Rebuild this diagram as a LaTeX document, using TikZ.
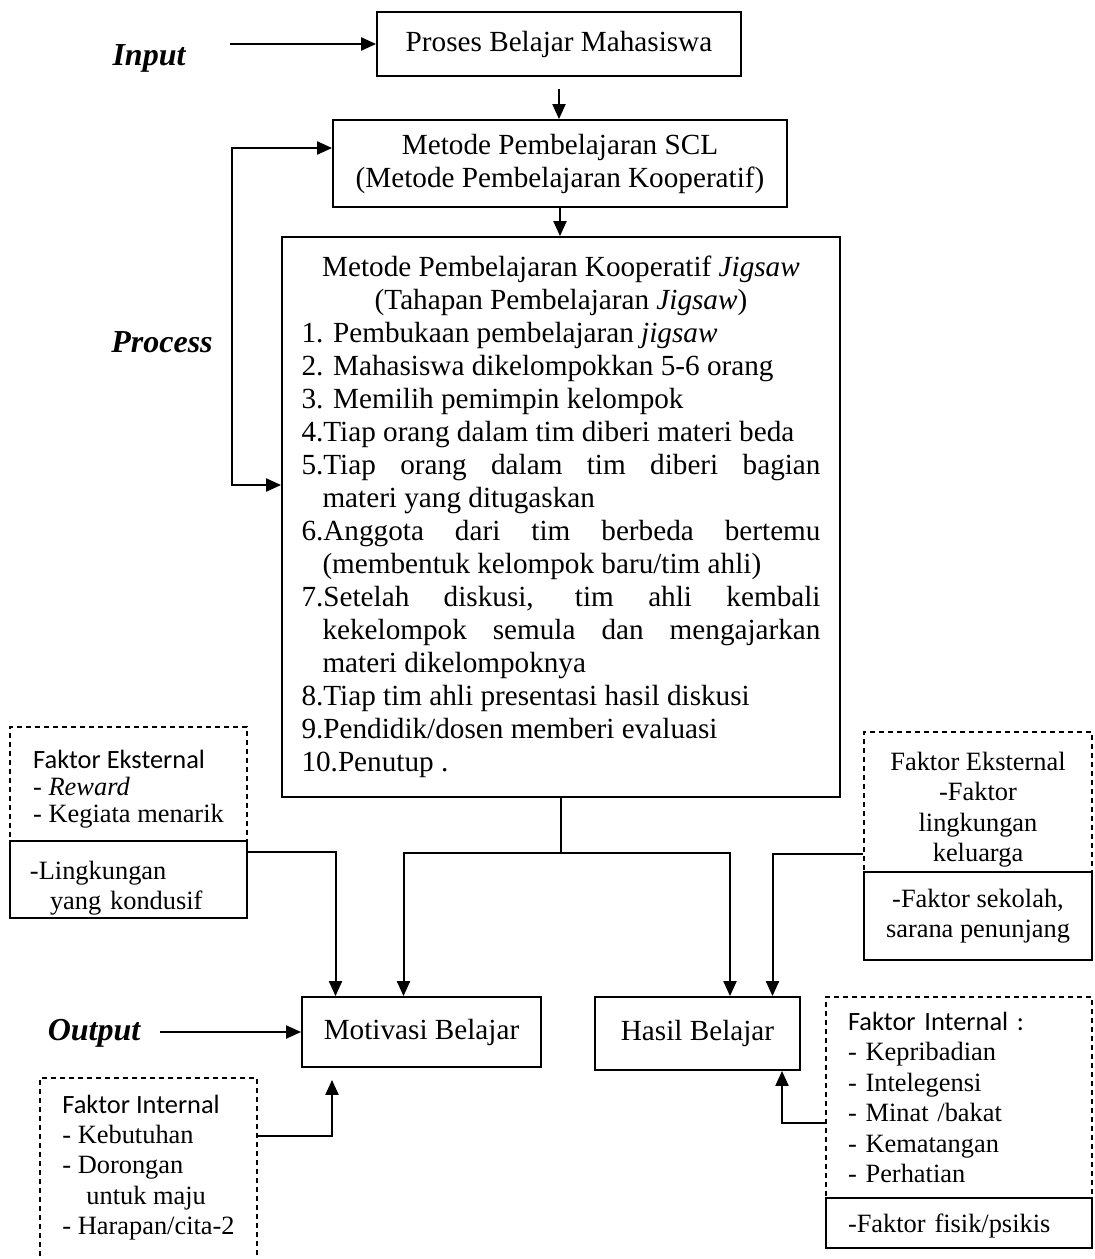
\documentclass[tikz,border=0pt]{standalone}
\usepackage{fontspec}
\setmainfont{Liberation Serif}
\newfontfamily\faktorfont{Carlito}
\usetikzlibrary{arrows.meta}

\begin{document}
\begin{tikzpicture}
    [x=0.5pt,y=-0.5pt,font=\fontsize{14.6}{16.5}\selectfont,
     kotak/.style={draw,line width=0.9pt,inner sep=0pt},
     putus/.style={draw,line width=0.7pt,dash pattern=on 2.5pt off 2pt,inner sep=0pt},
     isi/.style={font=\fontsize{13.2}{15.2}\selectfont,inner sep=0pt},
     tahap/.style={font=\fontsize{16}{19}\selectfont\bfseries\itshape},
     panah/.style={-{Triangle[length=7.5pt,width=6.5pt]},line width=1pt},
     panahdua/.style={{Triangle[length=7.5pt,width=6.5pt]}-{Triangle[length=7.5pt,width=6.5pt]},line width=1pt},
     garis/.style={line width=1pt}]
    \useasboundingbox (0,0) rectangle (1094,1259);

    \node[kotak,minimum width=182pt,minimum height=32pt] (proses) at (559,44) {Proses Belajar Mahasiswa};
    \node[kotak,minimum width=227pt,minimum height=43.5pt,align=center] (scl) at (560,163.5)
        {Metode Pembelajaran SCL\\(Metode Pembelajaran Kooperatif)};
    \node[kotak,minimum width=279pt,minimum height=280pt] (jigsaw) at (561,517) {\parbox{259.5pt}{%
        {\centering Metode Pembelajaran Kooperatif \textit{Jigsaw}\\
        (Tahapan Pembelajaran \textit{Jigsaw})\par}
        1. Pembukaan pembelajaran \textit{jigsaw}\par
        2. Mahasiswa dikelompokkan 5-6 orang\par
        3. Memilih pemimpin kelompok\par
        4.Tiap orang dalam tim diberi materi beda\par
        \hangindent=10.5pt\hangafter=1 5.Tiap orang dalam tim diberi bagian\linebreak
        materi yang ditugaskan\par
        \hangindent=10.5pt\hangafter=1 6.Anggota dari tim berbeda bertemu\linebreak
        (membentuk kelompok baru/tim ahli)\par
        \hangindent=10.5pt\hangafter=1 7.Setelah diskusi, tim ahli kembali\linebreak
        kekelompok semula dan mengajarkan\linebreak materi dikelompoknya\par
        8.Tiap tim ahli presentasi hasil diskusi\par
        9.Pendidik/dosen memberi evaluasi\par
        10.Penutup .}};
    \node[kotak,minimum width=119.5pt,minimum height=35pt] (motivasi) at (421.5,1032) {Motivasi Belajar};
    \node[kotak,minimum width=102.5pt,minimum height=36.5pt] (hasil) at (697.5,1033.5) {Hasil Belajar};

    \node[tahap] (input) at (149,58) {Input};
    \node[tahap] (process) at (162,342) {Process};
    \node[tahap] (output) at (94,1033) {Output};

    % faktor eksternal kiri
    \node[putus,isi,font=\fontsize{13.2}{13.5}\selectfont,minimum width=118.5pt,minimum height=57pt,align=left]
        (lext) at (128.5,784) {\rule{0pt}{14pt}{\faktorfont Faktor Eksternal}\\- \textit{Reward}\\- Kegiata menarik};
    \node[kotak,isi,minimum width=118.5pt,minimum height=38.5pt,text width=98.5pt,inner xsep=10pt,align=left]
        (lingk) at (128.5,879.5) {\rule{0pt}{18pt}-Lingkungan\\\hspace*{10pt}yang kondusif};

    % faktor eksternal kanan
    \node[putus,isi,minimum width=114pt,minimum height=70pt,align=center]
        (rext) at (978,802) {\rule{0pt}{17pt}Faktor Eksternal\\-Faktor\\lingkungan\\keluarga};
    \node[kotak,isi,minimum width=114pt,minimum height=44pt,align=center]
        (rsek) at (978,916) {-Faktor sekolah,\\sarana penunjang};

    % faktor internal
    \node[putus,minimum width=108.5pt,minimum height=106pt] (lint) at (148.5,1184) {};
    \node[isi,anchor=west,align=left] (lintisi) at (62,1167.5)
        {{\faktorfont Faktor Internal}\\- Kebutuhan\\- Dorongan\\\hspace*{12pt}untuk maju\\- Harapan/cita-2};
    \node[putus,isi,minimum width=133pt,minimum height=100.5pt,text width=111pt,inner xsep=11pt,align=left]
        (rint) at (959,1097.5) {{\faktorfont Faktor Internal :}\\- Kepribadian\\- Intelegensi\\- Minat /bakat\\- Kematangan\\- Perhatian};
    \node[kotak,isi,minimum width=133pt,minimum height=25pt,text width=111pt,inner xsep=11pt,align=left]
        (rfis) at (959,1223) {\rule{0pt}{12pt}-Faktor fisik/psikis};

    \coordinate (inp) at (230,44);
    \coordinate (keluar) at (160,1032);
    \coordinate (balik) at (232,148);
    \coordinate (balikb) at (232,485);
    \coordinate (cabang) at (561,853);

    \draw[panah] (inp) -- (proses);
    \draw[panah,shorten <=6pt] (proses.south) -- (proses.south |- scl.north);
    \draw[panah] (scl.south) -- (scl.south |- jigsaw.north);
    \draw[panahdua] (balik -| scl.west) -- (balik) -- (balikb) -- (balikb -| jigsaw.west);
    \draw[garis] (jigsaw.south) -- (cabang);
    \draw[panah] (cabang) -| ([xshift=-9pt]motivasi.north);
    \draw[panah] (cabang) -| ([xshift=16.25pt]hasil.north);
    \draw[panah] ([yshift=-6pt]lingk.north east) -| ([xshift=-43pt]motivasi.north);
    \draw[panah] ([yshift=8.5pt]rsek.north west) -| ([xshift=37.5pt]hasil.north);
    \draw[panah,shorten >=6pt] ([yshift=-29.5pt]lint.north east) -| ([xshift=-44.75pt]motivasi.south);
    \draw[panah] ([yshift=-63.5pt]rint.north west) -| ([xshift=42.25pt]hasil.south);
    \draw[panah] (keluar) -- (motivasi);
\end{tikzpicture}
\end{document}
